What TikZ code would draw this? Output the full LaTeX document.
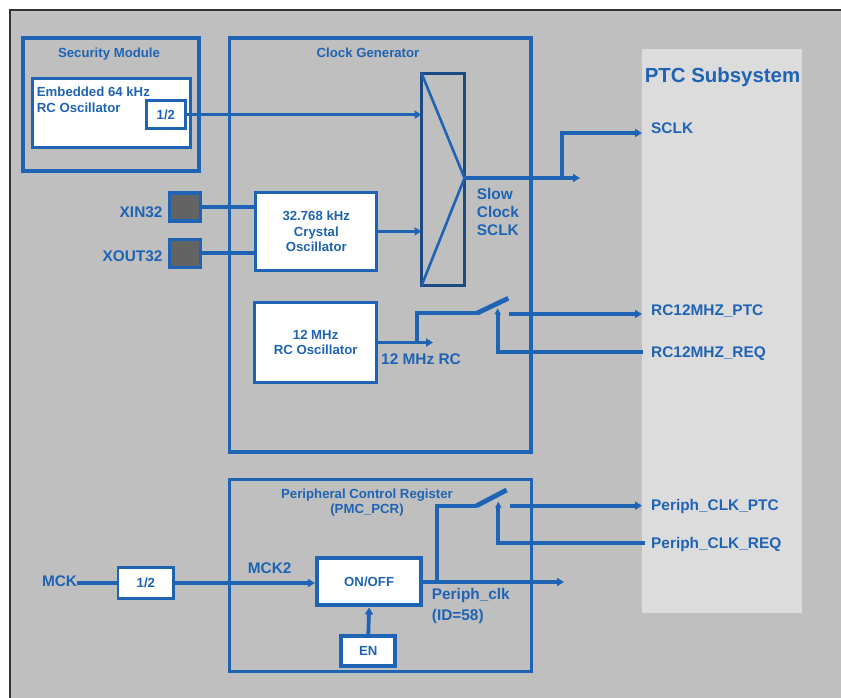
\documentclass[tikz,border=0pt]{standalone}
\usepackage{fontspec}
\setmainfont{Liberation Sans}
\usetikzlibrary{arrows.meta}
\definecolor{cblue}{HTML}{1F64B4}
\definecolor{cdark}{HTML}{1C4A82}
\definecolor{cbg}{HTML}{BFBFBF}
\definecolor{cptc}{HTML}{DCDCDC}
\definecolor{cpad}{HTML}{636363}
\definecolor{cframe}{HTML}{333333}
\begin{document}
\begin{tikzpicture}[x=1pt,y=-1pt,
  box/.style={draw=cblue, rectangle, inner sep=0pt, line width=3.3pt, fill=white, text=cblue,
    font=\bfseries\fontsize{13.2}{15.8}\selectfont, align=center},
  frame/.style={draw=cblue, line width=3.8pt, rectangle, inner sep=0pt},
  pad/.style={draw=cblue, fill=cpad, line width=3.3pt, rectangle, inner sep=0pt, minimum width=31pt, minimum height=28pt},
  sig/.style={draw=cblue, line width=3.8pt},
  arr/.style={-{Triangle[length=7pt,width=8pt]}},
  sarr/.style={-{Triangle[length=6pt,width=6pt]}},
  blade/.style={draw=cblue, line width=4.8pt},
  lbl/.style={text=cblue, inner sep=0pt, font=\bfseries\fontsize{15.4}{18.3}\selectfont},
  small/.style={text=cblue, inner sep=0pt, font=\bfseries\fontsize{13.2}{15.8}\selectfont},
]
\useasboundingbox[fill=white] (0,0) rectangle (841,698);
\draw[draw=cframe, line width=1.2pt, fill=cbg] (10,10) rectangle (860,720);

% PTC subsystem
\node[fill=cptc, rectangle, inner sep=0pt, minimum width=160pt, minimum height=563.7pt] (ptc) at (722,330.85) {};
\node[text=cblue, inner sep=0pt, font=\bfseries\fontsize{20.4}{24}\selectfont, anchor=base] (ptctitle) at (722.5,82.7) {PTC Subsystem};

% Security module
\node[frame, minimum width=176pt, minimum height=132.6pt] (secmod) at (111.3,104.7) {};
\node[small, anchor=base] (sectitle) at (109,57.4) {Security Module};
\node[box, minimum width=158pt, minimum height=69pt] (emb) at (111.2,113) {};
\node[small, anchor=north west, align=left] (embtxt) at (36.7,86.7) {Embedded 64 kHz\\RC Oscillator};
\node[box, minimum width=38.7pt, minimum height=27.7pt] (div1) at (165.85,114.65) {1/2};

% Clock generator
\node[frame, minimum width=301.5pt, minimum height=414pt] (cg) at (380.25,245) {};
\node[small, anchor=base] (cgtitle) at (368,57.4) {Clock Generator};
\node[draw=cdark, line width=3.2pt, rectangle, inner sep=0pt, outer sep=0pt, minimum width=43pt, minimum height=212.6pt] (mux) at (443,179.5) {};
\coordinate (mo) at (464.5,178);
\draw[cblue, line width=2.6pt] (mux.north west) -- (mo) -- (mux.south west);

\node[pad] (xin) at (185,206.9) {};
\node[pad] (xout) at (185,253.2) {};
\node[lbl, anchor=base east] (xinlbl) at (162.7,217.3) {XIN32};
\node[lbl, anchor=base east] (xoutlbl) at (162.7,261.7) {XOUT32};
\node[box, minimum width=121pt, minimum height=78.3pt] (xtal) at (316.3,231.35) {32.768 kHz\\Crystal\\Oscillator};
\node[box, minimum width=121.7pt, minimum height=80.6pt] (rc12) at (315.65,342.5) {12 MHz\\RC Oscillator};

\draw[sig, line width=4.2pt] (xin.east) -- (xin.east -| xtal.west);
\draw[sig, line width=4.2pt] (xout.east) -- (xout.east -| xtal.west);
\draw[sig, line width=3.3pt, arr] (div1.east) -- (div1.east -| mux.west);
\draw[sig, line width=3.3pt, arr] (xtal.east) -- (xtal.east -| mux.west);

\node[lbl, anchor=north west, align=left] (slow) at (476.7,187.7) {Slow\\Clock\\SCLK};
\coordinate (sclkend) at (580,178);
\coordinate (sclkbr) at (562,178);
\coordinate (sclkptc) at (642,133);
\draw[sig, arr] (mo) -- (sclkend);
\draw[sig, arr] (sclkbr) |- (sclkptc);
\node[lbl, anchor=base west] (sclklbl) at (651,134) {SCLK};

% 12 MHz RC path
\coordinate (rcend) at (433,342.5);
\coordinate (rcbr) at (416.7,342.5);
\coordinate (sw1a) at (476.7,313.3);
\coordinate (sw1b) at (508.3,298.3);
\draw[sig, line width=3.3pt, arr] (rc12.east) -- (rcend);
\draw[sig] (rcbr) |- (sw1a);
\draw[blade] (sw1a) -- (sw1b);
\node[lbl, anchor=base west] (rclbl) at (381,364) {12 MHz RC};
\coordinate (rcptcs) at (509.3,314);
\coordinate (rcptce) at (642,314);
\draw[sig, arr] (rcptcs) -- (rcptce);
\coordinate (rcreqs) at (643,351.7);
\coordinate (rcreqe) at (497.7,308.3);
\draw[sig, line width=4.3pt, sarr] (rcreqs) -| (rcreqe);
\node[lbl, anchor=base west] (rcptclbl) at (651,315) {RC12MHZ\_PTC};
\node[lbl, anchor=base west] (rcreqlbl) at (651,357.3) {RC12MHZ\_REQ};

% Peripheral control register
\node[frame, minimum width=302pt, minimum height=192pt] (pcr) at (380.5,575.5) {};
\node[small, anchor=north, align=center, font=\bfseries\fontsize{13.2}{15.5}\selectfont] (pcrtitle) at (367,488.3) {Peripheral Control Register\\(PMC\_PCR)};
\node[lbl, anchor=base east] (mck) at (77.3,586) {MCK};
\node[box, line width=2.8pt, minimum width=55.7pt, minimum height=31.4pt] (div2) at (145.85,583) {1/2};
\node[box, line width=4.2pt, minimum width=104.3pt, minimum height=47.7pt] (onoff) at (369.15,581.5) {ON/OFF};
\node[box, line width=4.2pt, minimum width=54pt, minimum height=30.3pt] (en) at (368.3,651.15) {EN};
\draw[sig, line width=4.8pt] (mck.east |- div2.west) -- (div2.west);
\draw[sig, line width=3.3pt, arr] (div2.east) -- (div2.east -| onoff.west);
\draw[sig, arr] (en.north) -- (onoff.south);
\node[lbl, anchor=base west] (mck2) at (247.7,573.3) {MCK2};

\coordinate (pclk) at (564,582);
\coordinate (pbr) at (437,582);
\coordinate (sw2a) at (476.7,505.7);
\coordinate (sw2b) at (506.7,490);
\draw[sig, arr] (onoff.east |- pclk) -- (pclk);
\draw[sig] (pbr) |- (sw2a);
\draw[blade] (sw2a) -- (sw2b);
\node[lbl, anchor=north west, align=left, font=\bfseries\fontsize{15.4}{20.7}\selectfont] (pclklbl) at (431.7,588) {Periph\_clk\\(ID=58)};
\coordinate (pptcs) at (510,505.7);
\coordinate (pptce) at (642,505.7);
\draw[sig, arr] (pptcs) -- (pptce);
\coordinate (preqs) at (645,543.3);
\coordinate (preqe) at (498.3,501.7);
\draw[sig, line width=4.3pt, sarr] (preqs) -| (preqe);
\node[lbl, anchor=base west] (pptclbl) at (651,510.7) {Periph\_CLK\_PTC};
\node[lbl, anchor=base west] (preqlbl) at (651,548) {Periph\_CLK\_REQ};
\end{tikzpicture}
\end{document}
